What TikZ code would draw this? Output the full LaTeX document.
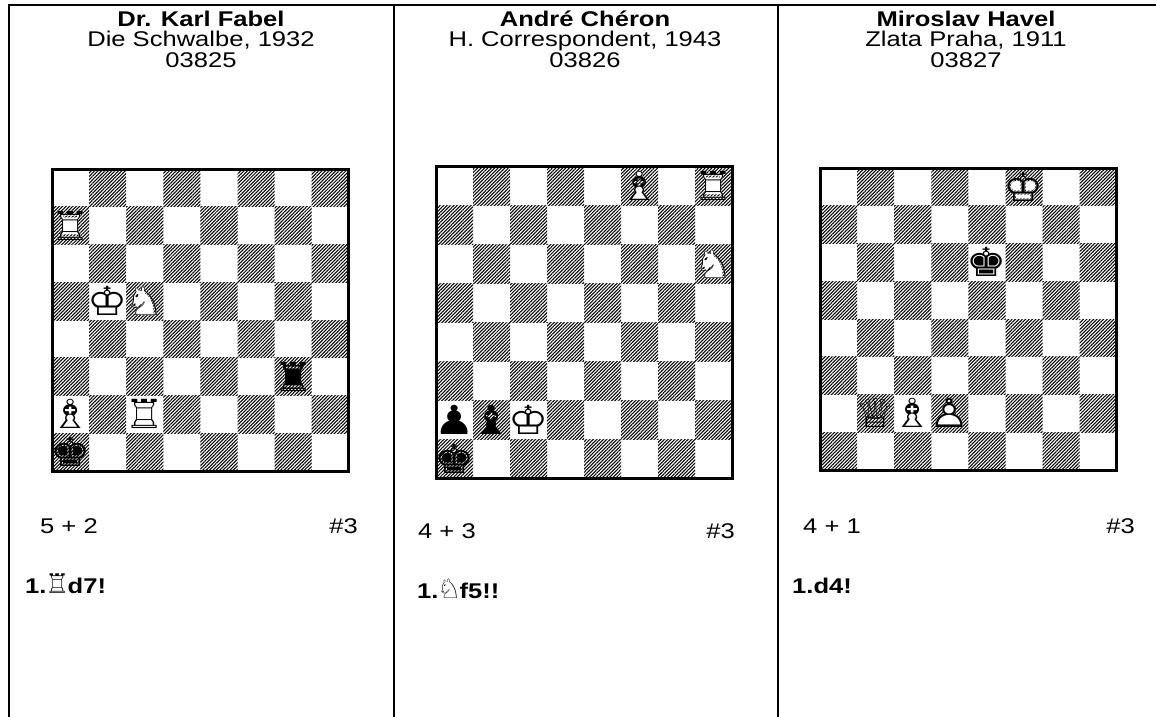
\documentclass[tikz,border=0pt]{standalone}
\usepackage{fontspec}
\setmainfont{Liberation Sans}[FakeStretch=1.2]
\newfontfamily\chessfont{DejaVu Sans}[FakeStretch=1.12]
\newfontfamily\figfont{DejaVu Sans}
\usetikzlibrary{patterns.meta}
\tikzset{
  rule/.style={line width=2pt},
  hdr/.style={anchor=base,inner sep=0pt,font=\fontsize{21.3}{21}\selectfont},
  txt/.style={inner sep=0pt,font=\fontsize{21.3}{21}\selectfont},
  sol/.style={inner sep=0pt,font=\fontsize{21.3}{21}\selectfont\bfseries},
  piece/.style={inner sep=0pt,anchor=center,font=\chessfont\fontsize{40}{40}\selectfont},
  dark/.style={pattern={Lines[angle=45,distance=2.4pt,line width=1.05pt]}},
  frame/.style={line width=3pt}
}
\newcommand\drawboard[4]{%
  \foreach \f in {1,...,8}{\foreach \r in {1,...,8}{%
    \pgfmathtruncatemacro\sqpar{mod(\f+\r,2)}%
    \ifnum\sqpar=0
      \fill[dark] ({#1+(\f-1)*#3},{-#2-(8-\r)*#4}) rectangle ++(#3,-#4);
    \fi}}
  \draw[frame] (#1,-#2) rectangle ({#1+8*#3},{-#2-8*#4});
}
% white piece: name, file, rank, solid glyph, outline glyph
\newcommand\wpc[5]{%
  \node[piece,text=white] (#1s) at ({\bx+(#2-0.5)*\bw},{-\by-(8.5-#3)*\bh}) {#4};
  \node[piece] (#1) at ({\bx+(#2-0.5)*\bw},{-\by-(8.5-#3)*\bh}) {#5};
}
% black piece or unfilled piece: name, file, rank, glyph
\newcommand\bpc[4]{%
  \node[piece] (#1) at ({\bx+(#2-0.5)*\bw},{-\by-(8.5-#3)*\bh}) {#4};
}
\newcommand\fig[1]{{\figfont\mdseries\fontsize{27}{27}\selectfont\kern-1.5pt#1\kern-1.5pt}}
\begin{document}
\begin{tikzpicture}[x=1pt,y=1pt]
\useasboundingbox (0,0) rectangle (1156,-717);
\fill[white] (0,0) rectangle (1156,-717);
% table rules
\coordinate (tl) at (8,-5);
\coordinate (tr) at (1156,-5);
\coordinate (bl) at (9,-717);
\coordinate (d1t) at (393.5,-5);
\coordinate (d1b) at (393.5,-717);
\coordinate (d2t) at (777.5,-5);
\coordinate (d2b) at (777.5,-717);
\draw[rule] (tl) -- (tr);
\draw[rule] (9,-5) -- (bl);
\draw[rule] (d1t) -- (d1b);
\draw[rule] (d2t) -- (d2b);
% headers
\node[hdr] (h1a) at (201,-27) {\bfseries Dr. Karl Fabel};
\node[hdr] (h1b) at (201,-47) {Die Schwalbe, 1932};
\node[hdr] (h1c) at (201,-67) {03825};
\node[hdr] (h2a) at (585,-27) {\bfseries André Chéron};
\node[hdr] (h2b) at (585,-47) {H. Correspondent, 1943};
\node[hdr] (h2c) at (585,-67) {03826};
\node[hdr] (h3a) at (966,-27) {\bfseries Miroslav Havel};
\node[hdr] (h3b) at (966,-47) {Zlata Praha, 1911};
\node[hdr] (h3c) at (966,-67) {03827};
% board 1
\def\bx{52}\def\by{169}\def\bw{37.1}\def\bh{37.75}
\drawboard{\bx}{\by}{\bw}{\bh}
\wpc{a7}{1}{7}{♜}{♖}
\wpc{b5}{2}{5}{♚}{♔}
\wpc{c5}{3}{5}{♞}{♘}
\bpc{g3}{7}{3}{♜}
\wpc{a2}{1}{2}{♝}{♗}
\wpc{c2}{3}{2}{♜}{♖}
\bpc{a1}{1}{1}{♚}
% board 2
\def\bx{436}\def\by{166}\def\bw{37}\def\bh{39}
\drawboard{\bx}{\by}{\bw}{\bh}
\wpc{Bf8}{6}{8}{♝}{♗}
\wpc{Bh8}{8}{8}{♜}{♖}
\wpc{Bh6}{8}{6}{♞}{♘}
\bpc{Ba2}{1}{2}{♟}
\bpc{Bb2}{2}{2}{♝}
\wpc{Bc2}{3}{2}{♚}{♔}
\bpc{Ba1}{1}{1}{♚}
% board 3
\def\bx{820}\def\by{168}\def\bw{37.1}\def\bh{37.75}
\drawboard{\bx}{\by}{\bw}{\bh}
\wpc{Cf8}{6}{8}{♚}{♔}
\bpc{Ce6}{5}{6}{♚}
\bpc{Cb2}{2}{2}{♕}
\wpc{Cc2}{3}{2}{♝}{♗}
\wpc{Cd2}{4}{2}{♟}{♙}
% bottom texts
\node[txt,anchor=base west] (s1) at (40,-533) {5 + 2};
\node[txt,anchor=base east] (m1) at (358,-533) {\#3};
\node[txt,anchor=base west] (s2) at (418,-538) {4 + 3};
\node[txt,anchor=base east] (m2) at (735,-538) {\#3};
\node[txt,anchor=base west] (s3) at (803,-533) {4 + 1};
\node[txt,anchor=base east] (m3) at (1135,-533) {\#3};
\node[sol,anchor=base west] (k1) at (25,-593) {1.\fig{♖}d7!};
\node[sol,anchor=base west] (k2) at (417,-598) {1.\fig{♘}f5!!};
\node[sol,anchor=base west] (k3) at (792,-593) {1.d4!};
\end{tikzpicture}
\end{document}
